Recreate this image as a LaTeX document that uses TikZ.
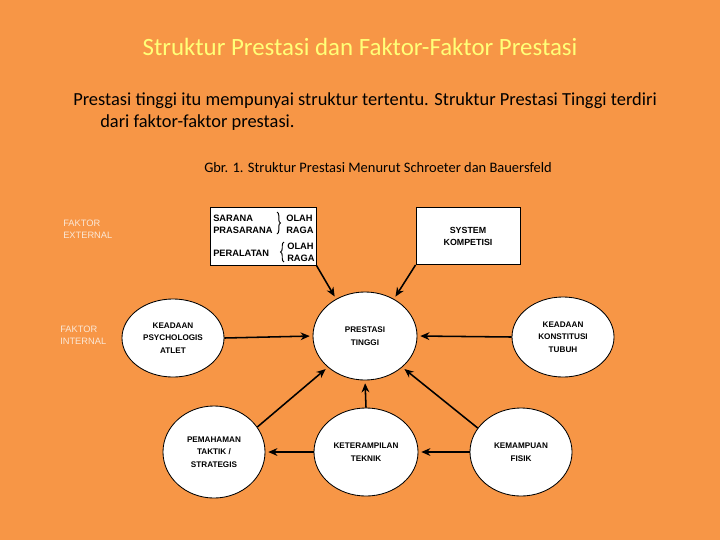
\documentclass[tikz,border=0pt]{standalone}
\usepackage{fontspec}
\setmainfont{Carlito}
\newfontfamily\arialfont{Liberation Sans}
\usetikzlibrary{shapes.geometric,arrows.meta,decorations.pathreplacing}
\definecolor{latar}{RGB}{247,150,70}
\definecolor{judul}{RGB}{255,255,120}
\definecolor{pudar}{RGB}{250,232,215}

\tikzset{
  faktor/.style={ellipse, draw, fill=white, line width=0.6pt, align=center, inner sep=0pt,
    font=\arialfont\bfseries\fontsize{5.8}{8.9}\selectfont},
  kotak/.style={rectangle, draw, fill=white, line width=0.6pt},
  isi/.style={anchor=west, inner sep=0pt, font=\arialfont\bfseries\fontsize{6.6}{7}\selectfont},
  ket/.style={anchor=west, inner sep=0pt, align=left, text=pudar,
    font=\arialfont\fontsize{6.6}{8.5}\selectfont},
  panah/.style={-{Stealth[length=6.5pt,width=5.5pt]}, line width=1.1pt, shorten >=2pt},
  kurung/.style={decorate, decoration={brace, amplitude=2.5pt}, line width=0.7pt}
}

\begin{document}
\begin{tikzpicture}[x=0.025cm, y=-0.025cm]
            \fill[latar] (0,0) rectangle (720,540);
            \useasboundingbox (0,0) rectangle (720,540);

            % judul dan kalimat
            \node[text=judul, font=\fontsize{17.7}{20}\selectfont] (judul) at (360,47) {Struktur Prestasi dan Faktor-Faktor Prestasi};
            \node[anchor=base west, inner sep=0pt, font=\fontsize{13.1}{15}\selectfont] (baris1) at (73,105) {Prestasi tinggi itu mempunyai struktur tertentu. Struktur Prestasi Tinggi terdiri};
            \node[anchor=base west, inner sep=0pt, font=\fontsize{13.1}{15}\selectfont] (baris2) at (100,127) {dari faktor-faktor prestasi.};
            \node[font=\fontsize{10.3}{12}\selectfont] (gambar) at (378,168) {Gbr. 1. Struktur Prestasi Menurut Schroeter dan Bauersfeld};

            % keterangan faktor
            \node[ket] (eksternal) at (63,229) {FAKTOR\\EXTERNAL};
            \node[ket] (internal) at (60,335) {FAKTOR\\INTERNAL};

            % kotak sarana
            \node[kotak, minimum width=2.65cm, minimum height=1.45cm] (sarana) at (263,236) {};
            \node[isi] (sar) at (213,218) {SARANA};
            \node[isi] (pras) at (213,230) {PRASARANA};
            \node[isi] (olah1) at (286,218) {OLAH};
            \node[isi] (raga1) at (286,230) {RAGA};
            \node[isi] (alat) at (213,253) {PERALATAN};
            \node[isi] (olah2) at (287,246) {OLAH};
            \node[isi] (raga2) at (287,258) {RAGA};
            \draw[kurung] (277,212) -- (277,234);
            \draw[kurung] (284,262) -- (284,242);

            % kotak kompetisi
            \node[kotak, minimum width=2.6cm, minimum height=1.425cm, align=center,
              font=\arialfont\bfseries\fontsize{6.3}{8.5}\selectfont] (kompetisi) at (468,236) {SYSTEM\\KOMPETISI};

            % elips
            \node[faktor, minimum width=2.6cm, minimum height=2.2cm] (prestasi) at (365,336) {PRESTASI\\TINGGI};
            \node[faktor, minimum width=2.55cm, minimum height=1.95cm] (psikologis) at (173,338) {KEADAAN\\PSYCHOLOGIS\\ATLET};
            \node[faktor, minimum width=2.55cm, minimum height=2.0cm] (konstitusi) at (563,337) {KEADAAN\\KONSTITUSI\\TUBUH};
            \node[faktor, minimum width=2.55cm, minimum height=2.3cm] (taktik) at (214,452) {PEMAHAMAN\\TAKTIK /\\STRATEGIS};
            \node[faktor, minimum width=2.6cm, minimum height=2.2cm] (teknik) at (366,452) {KETERAMPILAN\\TEKNIK};
            \node[faktor, minimum width=2.55cm, minimum height=2.2cm] (fisik) at (521,452) {KEMAMPUAN\\FISIK};

            % panah
            \path[panah] (sarana.south east) edge (prestasi.128);
            \path[panah] (kompetisi.south west) edge (prestasi.52);
            \path[panah] (psikologis.east) edge (prestasi.west);
            \path[panah] (konstitusi.west) edge (prestasi.east);
            \path[panah] (taktik.30) edge (prestasi.220);
            \path[panah] (teknik.north) edge (prestasi.south);
            \path[panah] (fisik.151) edge (prestasi.320);
            \path[panah] (teknik.west) edge (taktik.east);
            \path[panah] (fisik.west) edge (teknik.east);
        \end{tikzpicture}
\end{document}
